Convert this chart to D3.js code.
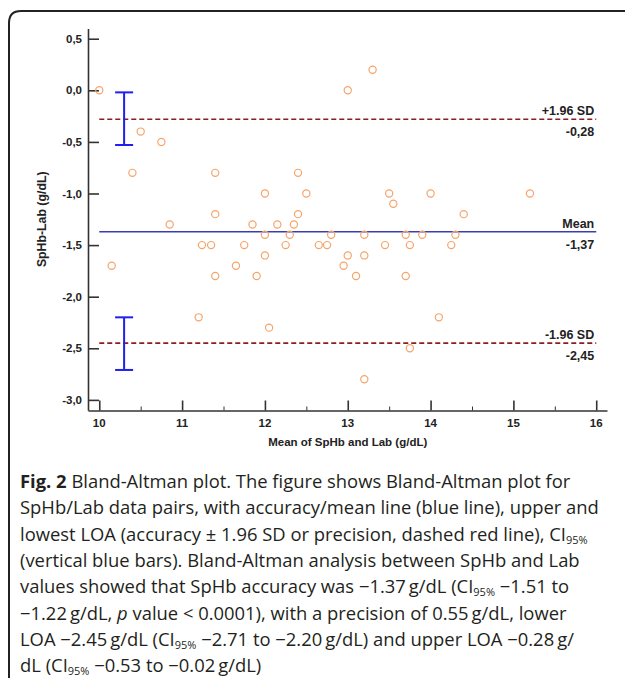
<!doctype html>
<html>
<head>
<meta charset="utf-8">
<title>Bland-Altman plot</title>
<script src="https://cdnjs.cloudflare.com/ajax/libs/d3/7.8.5/d3.min.js"></script>
<style>
  body { margin: 0; background: #fff; }
  svg text { font-family: "Liberation Sans", Arial, sans-serif; }
  .cap { font-family: "Open Sans", "Noto Sans", sans-serif; fill: #231f20; }
</style>
</head>
<body>
<div id="chart"></div>
<script>
// measurements: mean of SpHb and Lab (x) vs SpHb - Lab (y)
const meanVals = [10.0, 10.15, 10.4, 10.5, 10.75, 10.85, 11.2, 11.24, 11.35, 11.4, 11.4, 11.4,
  11.65, 11.75, 11.85, 11.9, 12.0, 12.0, 12.0, 12.05, 12.15, 12.25, 12.3, 12.35, 12.4, 12.4,
  12.5, 12.65, 12.75, 12.8, 12.95, 13.0, 13.0, 13.1, 13.2, 13.2, 13.2, 13.3, 13.45, 13.5,
  13.55, 13.7, 13.7, 13.75, 13.75, 13.9, 14.0, 14.1, 14.25, 14.3, 14.4, 15.2];
const diffVals = [0.0, -1.7, -0.8, -0.4, -0.5, -1.3, -2.2, -1.5, -1.5, -0.8, -1.2, -1.8,
  -1.7, -1.5, -1.3, -1.8, -1.0, -1.4, -1.6, -2.3, -1.3, -1.5, -1.4, -1.3, -0.8, -1.2,
  -1.0, -1.5, -1.5, -1.4, -1.7, 0.0, -1.6, -1.8, -1.4, -1.6, -2.8, 0.2, -1.5, -1.0,
  -1.1, -1.4, -1.8, -1.5, -2.5, -1.4, -1.0, -2.2, -1.5, -1.4, -1.2, -1.0];

const refNames = ['+1.96 SD', 'Mean', '-1.96 SD'];
const refValues = [-0.28, -1.37, -2.45];
const refLabels = ['-0,28', '-1,37', '-2,45'];

const ciX = 10.3;
const ciLow = [-0.53, -2.71];
const ciHigh = [-0.02, -2.20];

const xTicks = [10, 11, 12, 13, 14, 15, 16];
const xMinor = [10.5, 11.5, 12.5, 13.5, 14.5, 15.5];
const yTicks = [0.5, 0, -0.5, -1, -1.5, -2, -2.5, -3];

const W = 625, H = 678;
const svg = d3.select('#chart').append('svg')
  .attr('width', W).attr('height', H);

// frame around figure
svg.append('path')
  .attr('d', 'M9,678 L9,23 Q9,11 21,11 L625,11')
  .attr('fill', 'none').attr('stroke', '#222').attr('stroke-width', 2);

const x = d3.scaleLinear().domain([9.864, 16.13]).range([88, 607]);
const y = d3.scaleLinear().domain([-3.1, 0.6]).range([410.2, 28.4]);

const axisColor = '#333';

// y axis
const yAxis = svg.append('g').attr('transform', 'translate(88,0)')
  .call(d3.axisRight(y).tickValues(yTicks).tickSize(11).tickSizeOuter(0).tickFormat(() => ''));
yAxis.select('.domain').attr('stroke', axisColor).attr('stroke-width', 1.6);
yAxis.selectAll('.tick line').attr('stroke', axisColor).attr('stroke-width', 1.6);

svg.append('g').selectAll('text').data(yTicks).join('text')
  .attr('x', 82).attr('y', d => y(d) + 4)
  .attr('text-anchor', 'end')
  .style('font-size', '11.5px').style('font-weight', 'bold').style('fill', '#222')
  .text(d => d3.format('.1f')(d).replace('.', ',').replace('−', '-'));

// x axis
const xAxis = svg.append('g').attr('transform', 'translate(0,410.5)')
  .call(d3.axisTop(x).tickValues(xTicks).tickSize(10).tickSizeOuter(0).tickFormat(() => ''));
xAxis.select('.domain').attr('stroke', axisColor).attr('stroke-width', 1.6);
xAxis.selectAll('.tick line').attr('stroke', axisColor).attr('stroke-width', 1.6);

const xMinorAxis = svg.append('g').attr('transform', 'translate(0,410.5)')
  .call(d3.axisTop(x).tickValues(xMinor).tickSize(4).tickFormat(() => ''));
xMinorAxis.select('.domain').remove();
xMinorAxis.selectAll('.tick line').attr('stroke', axisColor).attr('stroke-width', 1);

svg.append('g').selectAll('text').data(xTicks).join('text')
  .attr('x', d => x(d)).attr('y', 427)
  .attr('text-anchor', 'middle')
  .style('font-size', '11.5px').style('font-weight', 'bold').style('fill', '#222')
  .text(d => d);

// axis titles
svg.append('text')
  .attr('x', x(13)).attr('y', 446)
  .attr('text-anchor', 'middle')
  .style('font-size', '11.5px').style('font-weight', 'bold').style('fill', '#222')
  .text('Mean of SpHb and Lab (g/dL)');

svg.append('text')
  .attr('transform', 'translate(46,' + ((y(-3.1) + y(0.6)) / 2) + ') rotate(-90)')
  .attr('text-anchor', 'middle')
  .style('font-size', '12.3px').style('font-weight', 'bold').style('fill', '#222')
  .text('SpHb-Lab (g/dL)');

// reference lines
const refs = refNames.map((n, i) => ({ name: n, v: refValues[i], lab: refLabels[i] }));
svg.append('g').selectAll('line').data(refs).join('line')
  .attr('x1', x(10)).attr('x2', x(16))
  .attr('y1', d => y(d.v)).attr('y2', d => y(d.v))
  .attr('stroke', d => d.name === 'Mean' ? '#3a3fb0' : '#8b1e1e')
  .attr('stroke-width', d => d.name === 'Mean' ? 1.5 : 1.6)
  .attr('stroke-dasharray', d => d.name === 'Mean' ? null : '5,3');

svg.append('g').selectAll('text').data(refs).join('text')
  .attr('x', x(16) - 2).attr('y', d => y(d.v) - 4)
  .attr('text-anchor', 'end')
  .style('font-size', '12.5px').style('font-weight', 'bold').style('fill', '#222')
  .text(d => d.name);

svg.append('g').selectAll('text').data(refs).join('text')
  .attr('x', x(16) - 2).attr('y', d => y(d.v) + 17)
  .attr('text-anchor', 'end')
  .style('font-size', '12.5px').style('font-weight', 'bold').style('fill', '#222')
  .text(d => d.lab);

// CI bars
const ci = ciLow.map((lo, i) => ({ lo: lo, hi: ciHigh[i] }));
const ciG = svg.append('g').attr('stroke', '#1f1fee').attr('stroke-width', 2);
ciG.selectAll('.v').data(ci).join('line').attr('class', 'v')
  .attr('x1', x(ciX)).attr('x2', x(ciX))
  .attr('y1', d => y(d.hi)).attr('y2', d => y(d.lo));
ciG.selectAll('.t').data(ci).join('line').attr('class', 't')
  .attr('x1', x(ciX) - 9).attr('x2', x(ciX) + 9)
  .attr('y1', d => y(d.hi)).attr('y2', d => y(d.hi));
ciG.selectAll('.b').data(ci).join('line').attr('class', 'b')
  .attr('x1', x(ciX) - 9).attr('x2', x(ciX) + 9)
  .attr('y1', d => y(d.lo)).attr('y2', d => y(d.lo));

// points
const pts = meanVals.map((m, i) => ({ m: m, d: diffVals[i] }));
svg.append('g').selectAll('circle').data(pts).join('circle')
  .attr('cx', d => x(d.m)).attr('cy', d => y(d.d))
  .attr('r', 3.6)
  .attr('fill', 'none').attr('stroke', '#f6a46a').attr('stroke-width', 1.2);

// caption
const capLines = [
  [['Fig. 2', 'b'], [' Bland-Altman plot. The figure shows Bland-Altman plot for']],
  [['SpHb/Lab data pairs, with accuracy/mean line (blue line), upper and']],
  [['lowest LOA (accuracy \u00b1 1.96 SD or precision, dashed red line), CI'], ['95%', 's']],
  [['(vertical blue bars). Bland-Altman analysis between SpHb and Lab']],
  [['values showed that SpHb accuracy was \u22121.37\u2009g/dL (CI'], ['95%', 's'], [' \u22121.51 to']],
  [['\u22121.22\u2009g/dL, '], ['p', 'i'], [' value < 0.0001), with a precision of 0.55\u2009g/dL, lower']],
  [['LOA \u22122.45\u2009g/dL (CI'], ['95%', 's'], [' \u22122.71 to \u22122.20\u2009g/dL) and upper LOA \u22120.28\u2009g/']],
  [['dL (CI'], ['95%', 's'], [' \u22120.53 to \u22120.02\u2009g/dL)']]
];
const capG = svg.append('g');
capLines.forEach((parts, i) => {
  const t = capG.append('text').attr('class', 'cap')
    .attr('x', 20).attr('y', 488 + i * 26.3)
    .style('font-size', '18.4px');
  let sub = false;
  parts.forEach(p => {
    const s = t.append('tspan').text(p[0]);
    if (p[1] === 'b') s.style('font-weight', 'bold');
    if (p[1] === 'i') s.style('font-style', 'italic');
    if (p[1] === 's') { s.style('font-size', '11px').attr('dy', 3); sub = true; }
    else if (sub) { s.attr('dy', -3); sub = false; }
  });
});
</script>
</body>
</html>
